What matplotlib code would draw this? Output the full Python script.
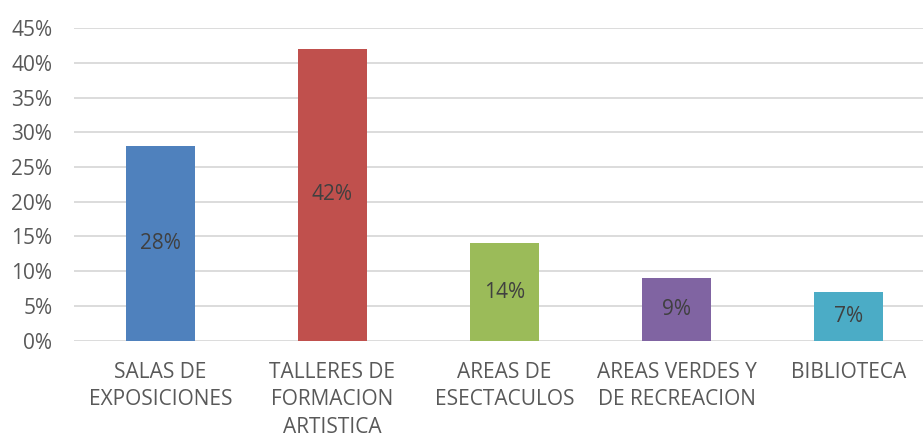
import numpy as np
import matplotlib.pyplot as plt

# Datos del grafico
categorias = ['SALAS DE\nEXPOSICIONES', 'TALLERES DE\nFORMACION\nARTISTICA',
              'AREAS DE\nESECTACULOS', 'AREAS VERDES Y\nDE RECREACION', 'BIBLIOTECA']
valores = [0.28, 0.42, 0.14, 0.09, 0.07]
colores = ['#4F81BD', '#C0504D', '#9BBB59', '#8064A2', '#4BACC6']
etiquetas = ['28%', '42%', '14%', '9%', '7%']
yticks = [0, 0.05, 0.10, 0.15, 0.20, 0.25, 0.30, 0.35, 0.40, 0.45]

plt.rcParams['font.family'] = ['Open Sans', 'DejaVu Sans']
gris = '#595959'

fig = plt.figure(figsize=(9.23, 4.38), dpi=100)
ax = fig.add_axes([0.0807, 0.2221, 0.9193, 0.7139])

x = np.arange(len(categorias))
barras = ax.bar(x, valores, width=0.40, color=colores, zorder=2)

# Etiquetas dentro de las barras
for b, et in zip(barras, etiquetas):
    ax.text(b.get_x() + b.get_width() / 2, b.get_height() / 2, et,
            ha='center', va='center', fontsize=15, color='#404040', zorder=3)

ax.set_xlim(-0.5, -0.5 + (923 - 74.5) / 172)
ax.set_ylim(0, 0.45)
ax.set_yticks(yticks)
ax.set_yticklabels([f'{int(round(v * 100))}%' for v in yticks])
ax.set_xticks(x)
ax.set_xticklabels(categorias, linespacing=1.42)

ax.grid(axis='y', color='#D9D9D9', linewidth=1.3, zorder=0)
ax.set_axisbelow(True)
for s in ax.spines.values():
    s.set_visible(False)
ax.tick_params(axis='y', length=0, pad=16, labelsize=15, labelcolor=gris)
ax.tick_params(axis='x', length=0, pad=15, labelsize=15, labelcolor=gris)
for lbl in ax.get_xticklabels():
    lbl.set_verticalalignment('top')

fig.savefig('out.png', dpi=100)
